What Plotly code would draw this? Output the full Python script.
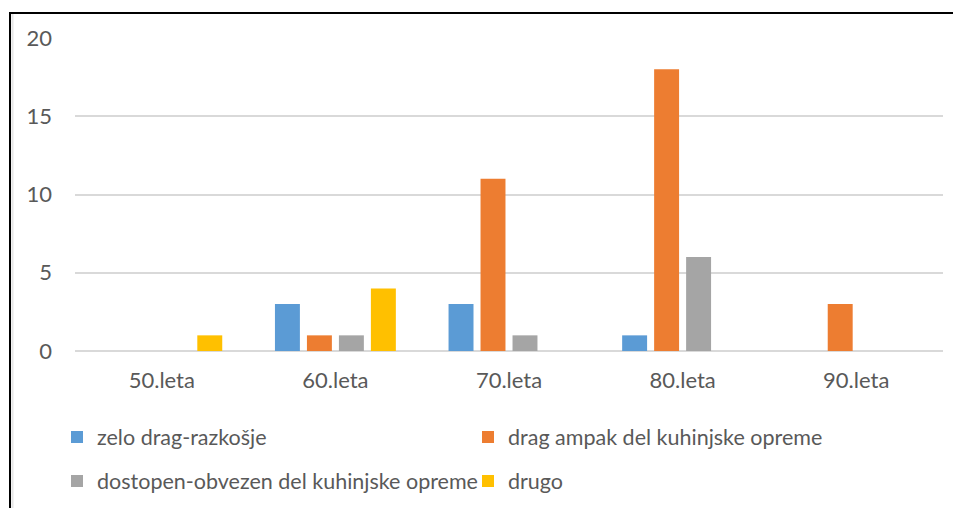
import plotly.graph_objects as go

CATEGORIES = ['50.leta', '60.leta', '70.leta', '80.leta', '90.leta']

ZELO_DRAG = [0, 3, 3, 1, 0]
DRAG_AMPAK = [0, 1, 11, 18, 3]
DOSTOPEN = [0, 1, 1, 6, 0]
DRUGO = [1, 4, 0, 0, 0]

SERIES = [
    ('zelo drag-razkošje', ZELO_DRAG, '#5B9BD5', 'legend'),
    ('drag ampak del kuhinjske opreme', DRAG_AMPAK, '#ED7D31', 'legend'),
    ('dostopen-obvezen del kuhinjske opreme', DOSTOPEN, '#A5A5A5', 'legend2'),
    ('drugo', DRUGO, '#FFC000', 'legend2'),
]

FONT = 'Lato, Calibri, Arial, sans-serif'
FONT_SIZE = 22
LEGEND_SIZE = 21.5
TEXT_COLOR = '#595959'
GRID = '#D9D9D9'

# the page body has an 8px margin, so work in screen px and shift back
OFF = 8
W, H = 961 - OFF, 508 - OFF
left, right, top, bottom = 75 - OFF, 943 - OFF, 38 - OFF, 351 - OFF
pw = right - left
ph = bottom - top


def px_x(sx):
    return (sx - OFF - left) / pw


def px_y(sy):
    return 1 - (sy - OFF - top) / ph


fig = go.Figure()
for name, values, color, legend in SERIES:
    fig.add_trace(go.Bar(
        x=CATEGORIES,
        y=values,
        name=name,
        marker=dict(color=color, line=dict(width=0)),
        legend=legend,
    ))

legend_common = dict(
    orientation='h',
    xanchor='left',
    yanchor='middle',
    font=dict(family=FONT, size=LEGEND_SIZE, color=TEXT_COLOR),
    entrywidth=366,
    entrywidthmode='pixels',
    bgcolor='rgba(0,0,0,0)',
    itemclick=False,
)

fig.update_layout(
    width=W,
    height=H,
    margin=dict(l=left, r=W - right, t=top, b=H - bottom, pad=0, autoexpand=False),
    paper_bgcolor='white',
    plot_bgcolor='white',
    barmode='group',
    bargap=0.263,
    bargroupgap=0.22,
    font=dict(family=FONT, size=FONT_SIZE, color=TEXT_COLOR),
    legend=dict(x=px_x(57), y=px_y(437), **legend_common),
    legend2=dict(x=px_x(57), y=px_y(481), **legend_common),
    xaxis=dict(
        showgrid=False,
        showline=False,
        zeroline=False,
        ticks='',
        ticklabelstandoff=14,
        tickfont=dict(family=FONT, size=FONT_SIZE, color=TEXT_COLOR),
    ),
    yaxis=dict(
        range=[0, 20],
        dtick=5,
        showgrid=True,
        gridcolor=GRID,
        gridwidth=1.5,
        zeroline=True,
        zerolinecolor=GRID,
        zerolinewidth=1.5,
        showline=False,
        ticks='',
        ticklabelstandoff=22,
        tickfont=dict(family=FONT, size=FONT_SIZE, color=TEXT_COLOR),
    ),
    shapes=[
        # chart border: top and left edges
        dict(type='line', xref='paper', yref='paper',
             x0=px_x(9), x1=px_x(970), y0=px_y(13), y1=px_y(13),
             line=dict(color='black', width=2)),
        dict(type='line', xref='paper', yref='paper',
             x0=px_x(10), x1=px_x(10), y0=px_y(12), y1=px_y(520),
             line=dict(color='black', width=2)),
        dict(type='line', xref='paper', yref='paper',
             x0=px_x(12.5), x1=px_x(12.5), y0=px_y(14), y1=px_y(520),
             line=dict(color='#E6E6E6', width=2)),
    ],
)

fig.write_html('out.html')
